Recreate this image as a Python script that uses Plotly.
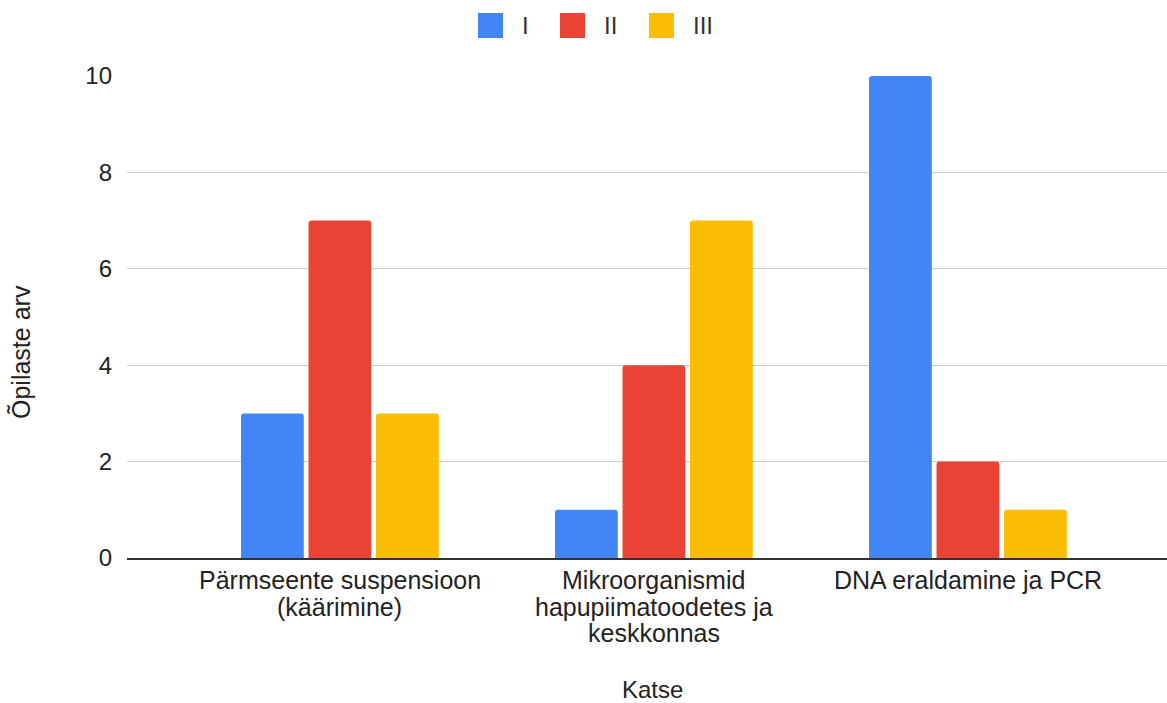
import plotly.graph_objects as go

# Experiments (x categories) and the number of students in each group
categories = [
    "Pärmseente suspensioon<br>(käärimine)",
    "Mikroorganismid<br>hapupiimatoodetes ja<br>keskkonnas",
    "DNA eraldamine ja PCR",
]
series_names = ["I", "II", "III"]
values_I = [3, 1, 10]
values_II = [7, 4, 2]
values_III = [3, 7, 1]
y_ticks = [0, 2, 4, 6, 8, 10]
x_title = "Katse"
y_title = "Õpilaste arv"

colors = ["#4285F4", "#EA4335", "#FBBC04"]
series_values = [values_I, values_II, values_III]

W, H = 1167, 703
L, R, T, B = 127, 0, 76, 145
plot_w = W - L - R
plot_h = H - T - B
FONT = "Arial, Liberation Sans, sans-serif"
TXT = "#222222"
FS = 24
FS_CAT = 25


def px_to_py(py):
    """Convert a page pixel row to a paper y coordinate."""
    return (H - B - py) / plot_h


def px_to_px(px):
    """Convert a page pixel column to a paper x coordinate."""
    return (px - L) / plot_w


fig = go.Figure()
for name, vals, col in zip(series_names, series_values, colors):
    fig.add_trace(go.Bar(
        name=name, x=categories, y=vals,
        marker=dict(color=col, line=dict(width=0)),
        showlegend=False,
    ))

# Category labels, one line at a time for tight line spacing
line_gap = 26.5
first_line = 580
for cat in categories:
    for i, line in enumerate(cat.split("<br>")):
        fig.add_annotation(text=line, xref="x", yref="paper",
                           x=cat, y=px_to_py(first_line + i * line_gap),
                           xanchor="center", yanchor="middle", showarrow=False,
                           font=dict(family=FONT, size=FS_CAT, color=TXT))

# Axis titles
fig.add_annotation(text=x_title, xref="paper", yref="paper",
                   x=px_to_px(652), y=px_to_py(689),
                   xanchor="center", yanchor="middle", showarrow=False,
                   font=dict(family=FONT, size=FS, color=TXT))
fig.add_annotation(text=y_title, xref="paper", yref="paper", textangle=-90,
                   x=px_to_px(21), y=px_to_py(352),
                   xanchor="center", yanchor="middle", showarrow=False,
                   font=dict(family=FONT, size=FS_CAT, color=TXT))

# Legend drawn as swatches + labels above the plot
sw_left = [478, 560, 649]
sw_size = 25
sw_top = 13
for name, col, left in zip(series_names, colors, sw_left):
    y1 = px_to_py(sw_top)
    y0 = px_to_py(sw_top + sw_size)
    fig.add_shape(type="rect", xref="paper", yref="paper",
                  x0=px_to_px(left), x1=px_to_px(left + sw_size),
                  y0=y0, y1=y1,
                  fillcolor=col, line=dict(width=0))
    fig.add_annotation(text=name, xref="paper", yref="paper",
                       x=px_to_px(left + sw_size + 17),
                       y=(y0 + y1) / 2, xanchor="left", yanchor="middle",
                       showarrow=False, font=dict(family=FONT, size=FS, color="#333333"))

fig.update_layout(
    width=W, height=H,
    margin=dict(l=L, r=R, t=T, b=B),
    paper_bgcolor="white", plot_bgcolor="white",
    barmode="group", bargap=0.355, bargroupgap=0.07,
    barcornerradius=3,
    font=dict(family=FONT, size=FS, color=TXT),
    xaxis=dict(
        type="category",
        range=[-0.678, 2.634],
        showgrid=False,
        showline=True, linecolor="#333333", linewidth=2,
        ticks="", showticklabels=False,
    ),
    yaxis=dict(
        range=[0, 10],
        tickvals=y_ticks,
        showgrid=True, gridcolor="#cccccc", gridwidth=1,
        zeroline=False, showline=False,
        ticks="", ticklabelstandoff=14,
        tickfont=dict(size=FS, color=TXT),
    ),
)

fig.write_html("out.html")
